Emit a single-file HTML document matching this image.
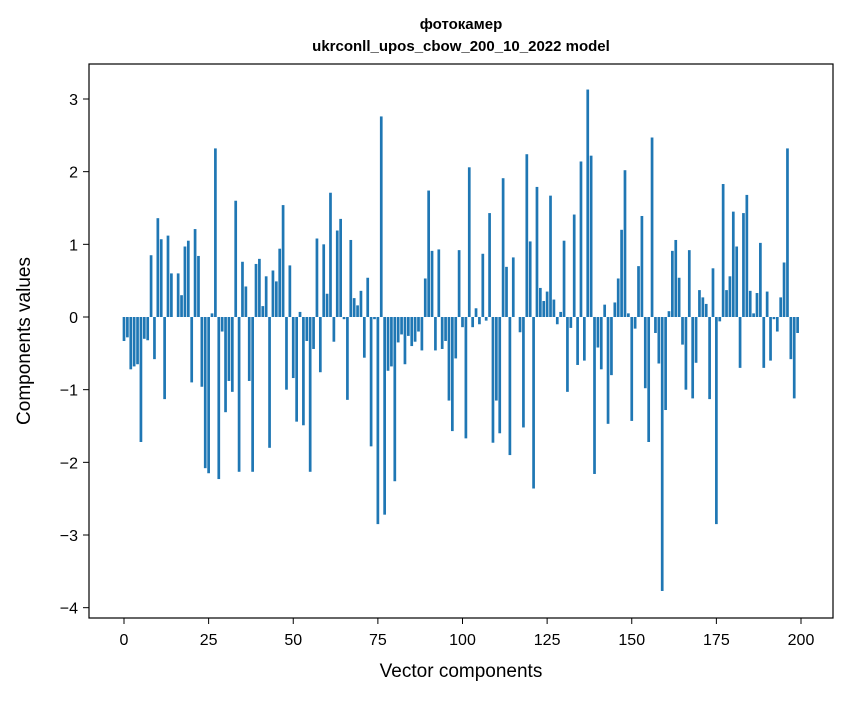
<!DOCTYPE html>
<html><head><meta charset="utf-8"><style>
body{margin:0;background:#fff;}
svg text{font-family:"Liberation Sans","DejaVu Sans",sans-serif;}
</style></head><body>
<svg id="chart" width="847" height="696" xmlns="http://www.w3.org/2000/svg">
<rect width="847" height="696" fill="#fff"/>
<text x="461" y="29" text-anchor="middle" font-size="15" font-weight="bold">фотокамер</text>
<text x="461" y="51" text-anchor="middle" font-size="15" font-weight="bold">ukrconll_upos_cbow_200_10_2022 model</text>
<g id="bars"></g>
<rect x="89" y="64" width="744" height="554" fill="none" stroke="#000" stroke-width="1.2"/>
<g id="xticks"></g>
<g id="yticks"></g>
<text x="461" y="677" text-anchor="middle" font-size="19">Vector components</text>
<text transform="translate(30,341) rotate(-90)" text-anchor="middle" font-size="19">Components values</text>
</svg>
<script>
const values=[-0.33,-0.28,-0.72,-0.68,-0.65,-1.72,-0.3,-0.32,0.85,-0.58,1.36,1.07,-1.13,1.12,0.6,0,0.6,0.3,0.97,1.05,-0.9,1.21,0.84,-0.96,-2.08,-2.15,0.05,2.32,-2.23,-0.2,-1.31,-0.88,-1.03,1.6,-2.13,0.76,0.42,-0.88,-2.13,0.73,0.8,0.15,0.56,-1.8,0.64,0.49,0.94,1.54,-1.0,0.71,-0.84,-1.44,0.07,-1.49,-0.33,-2.13,-0.44,1.08,-0.76,1.0,0.32,1.71,-0.34,1.19,1.35,-0.03,-1.14,1.06,0.26,0.16,0.36,-0.56,0.54,-1.78,-0.03,-2.85,2.76,-2.72,-0.74,-0.68,-2.26,-0.35,-0.24,-0.65,-0.26,-0.4,-0.34,-0.2,-0.46,0.53,1.74,0.91,-0.46,0.93,-0.44,-0.33,-1.15,-1.57,-0.57,0.92,-0.14,-1.67,2.06,-0.14,0.12,-0.1,0.87,-0.05,1.43,-1.73,-1.15,-1.6,1.91,0.69,-1.9,0.82,0,-0.21,-1.52,2.24,1.04,-2.36,1.79,0.4,0.22,0.35,1.67,0.24,-0.1,0.07,1.05,-1.03,-0.15,1.41,-0.66,2.14,-0.6,3.13,2.22,-2.16,-0.42,-0.72,0.17,-1.47,-0.8,0.2,0.53,1.2,2.02,0.05,-1.43,-0.16,0.7,1.39,-0.98,-1.72,2.47,-0.22,-0.64,-3.77,-1.28,0.08,0.91,1.06,0.54,-0.38,-1.0,0.92,-1.12,-0.63,0.37,0.27,0.18,-1.13,0.67,-2.85,-0.06,1.83,0.37,0.56,1.45,0.97,-0.7,1.43,1.68,0.36,0.05,0.33,1.02,-0.7,0.35,-0.6,-0.03,-0.2,0.27,0.75,2.32,-0.58,-1.12,-0.22];
const xTicks=[0,25,50,75,100,125,150,175,200];
const yTicks=[-4,-3,-2,-1,0,1,2,3];
const NS="http://www.w3.org/2000/svg";
const xs=v=>124+v*3.385;
const ys=v=>317-v*72.67;
const bars=document.getElementById('bars');
values.forEach((v,i)=>{
  const r=document.createElementNS(NS,'rect');
  r.setAttribute('x',xs(i-0.4));
  r.setAttribute('width',3.385*0.8);
  r.setAttribute('y',Math.min(ys(v),ys(0)));
  r.setAttribute('height',Math.abs(ys(v)-ys(0)));
  r.setAttribute('fill','#1f77b4');
  
  
  bars.appendChild(r);
});
const xg=document.getElementById('xticks');
xTicks.forEach(t=>{
  const l=document.createElementNS(NS,'line');
  l.setAttribute('x1',xs(t));l.setAttribute('x2',xs(t));l.setAttribute('y1',618);l.setAttribute('y2',624);l.setAttribute('stroke','#000');
  
  
  xg.appendChild(l);
  const tx=document.createElementNS(NS,'text');
  tx.setAttribute('x',xs(t));tx.setAttribute('y',645);tx.setAttribute('text-anchor','middle');tx.setAttribute('font-size','16');
  tx.textContent=t;
  
  
  xg.appendChild(tx);
});
const yg=document.getElementById('yticks');
yTicks.forEach(t=>{
  const l=document.createElementNS(NS,'line');
  l.setAttribute('x1',83);l.setAttribute('x2',89);l.setAttribute('y1',ys(t));l.setAttribute('y2',ys(t));l.setAttribute('stroke','#000');
  
  
  yg.appendChild(l);
  const tx=document.createElementNS(NS,'text');
  tx.setAttribute('x',78);tx.setAttribute('y',ys(t)+6);tx.setAttribute('text-anchor','end');tx.setAttribute('font-size','16');
  tx.textContent=t<0?'\u2212'+Math.abs(t):t;
  
  
  yg.appendChild(tx);
});
</script>
</body></html>
